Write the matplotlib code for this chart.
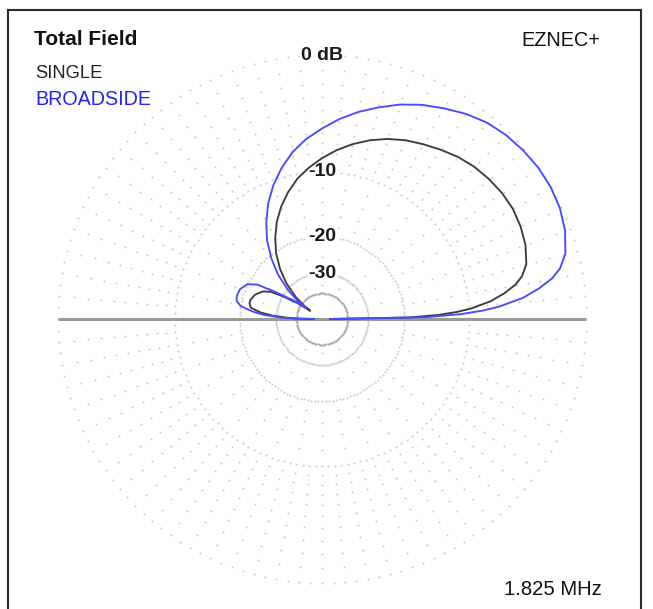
import numpy as np
import matplotlib
matplotlib.use("Agg")
import matplotlib.pyplot as plt
from matplotlib.lines import Line2D

# ---------------- data (elevation angle in degrees, field in dB) ----------------
angles = [0, 1, 2, 3, 4, 6, 8, 10, 12, 15, 20, 25, 30, 35, 40, 45, 50, 55, 60, 65,
          70, 75, 80, 85, 90, 95, 100, 105, 110, 115, 120, 125, 130, 135, 140, 143,
          145, 147, 150, 152, 155, 160, 165, 168, 171, 174, 176, 178, 179, 180]

broadside_db = [-60, -16, -11, -8.5, -6.8, -4.6, -3.2, -2.1, -1.4, -0.8, -0.35, -0.1,
                0.0, 0.0, -0.1, -0.25, -0.5, -0.9, -1.4, -1.9, -2.5, -3.2, -3.9, -4.7,
                -5.6, -6.5, -7.6, -9.0, -10.6, -12.5, -14.8, -17.4, -20.8, -25, -31,
                -37, -45, -35, -27, -22, -20, -19, -18.8, -19, -20, -23, -26, -32, -38,
                -60]

single_db = [-60, -19, -14, -11.5, -9.8, -7.6, -6.2, -5.1, -4.4, -3.8, -3.4, -3.2,
             -3.1, -3.15, -3.3, -3.5, -3.8, -4.2, -4.6, -5.0, -5.5, -6.1, -6.8, -7.6,
             -8.5, -9.5, -10.6, -12.0, -13.6, -15.5, -17.8, -20.5, -24, -28.5, -35,
             -42, -50, -38, -30, -26, -24, -22.5, -21.8, -21.8, -22.3, -25, -28.5, -35, -41,
             -60]

ring_db = [0, -10, -20, -30, -40]
ring_labels = ["0 dB", "-10", "-20", "-30"]
series_names = ["SINGLE", "BROADSIDE"]
title_text = "Total Field"
brand_text = "EZNEC+"
freq_text = "1.825 MHz"

# ---------------- helpers ----------------
def arrl_r(db):
    """ARRL log scale: radius factor 0.89 per 2 dB."""
    return 0.89 ** (-np.asarray(db, dtype=float) / 2.0)

def to_xy(ang_deg, db):
    r = arrl_r(db)
    a = np.radians(np.asarray(ang_deg, dtype=float))
    return r * np.cos(a), r * np.sin(a)

W, H = 653, 609
CX, CY, R = 322, 319, 264          # centre and outer radius in pixels

fig = plt.figure(figsize=(W / 100, H / 100), dpi=100)
ax = fig.add_axes([0, 0, 1, 1])
ax.set_xlim(-CX / R, (W - CX) / R)
ax.set_ylim(-(H - CY) / R, CY / R)
ax.axis("off")

def fx(px):
    return px / W

def fy(py):
    return 1 - py / H

FONT = ["Liberation Sans", "DejaVu Sans"]
grid_col = "#c6c6c6"

# ---------------- grid: dotted rings ----------------
ring_ang = np.arange(0, 360, 2.5)
for db in ring_db:
    x, y = to_xy(ring_ang, np.full_like(ring_ang, db))
    col = "#a8a8a8" if db == -40 else grid_col
    ax.plot(x, y, linestyle="none", marker="s", markersize=1.25,
            markeredgewidth=0, color=col, zorder=1)

# ---------------- grid: dotted spokes ----------------
spoke_bands = [
    (np.arange(-9, 0, 1), 5),
    (np.array([-18, -16, -14, -12]), 10),
    (np.array([-25]), 15),
    (np.array([-35]), 30),
]
for dbs, step in spoke_bands:
    angs = np.arange(0, 360, step)
    A, D = np.meshgrid(angs, dbs)
    x, y = to_xy(A.ravel(), D.ravel())
    ax.plot(x, y, linestyle="none", marker="s", markersize=1.25,
            markeredgewidth=0, color=grid_col, zorder=1)

# ---------------- horizon line ----------------
ax.plot([-1, 1], [0, 0], color="#999999", linewidth=2.2, zorder=2,
        solid_capstyle="butt")

# ---------------- ring labels ----------------
for db, lab in zip(ring_db, ring_labels):
    ax.text(0, float(arrl_r(db)), lab, ha="center", va="center",
            fontsize=14, fontweight="bold", family=FONT, color="#1a1a1a",
            zorder=3, bbox=dict(facecolor="white", edgecolor="none", pad=0.5))

# ---------------- patterns ----------------
xs, ys = to_xy(angles, single_db)
ax.plot(xs, ys, color="#3c3c3c", linewidth=1.35, zorder=4)
xb, yb = to_xy(angles, broadside_db)
ax.plot(xb, yb, color="#4a4aff", linewidth=1.35, zorder=5)

# ---------------- texts ----------------
fig.text(fx(34), fy(45), title_text, fontsize=15, fontweight="bold",
         family=FONT, color="#111111", ha="left", va="baseline")
fig.text(fx(35), fy(78), series_names[0], fontsize=13.2,
         family=FONT, color="#222222", ha="left", va="baseline")
fig.text(fx(35), fy(105), series_names[1], fontsize=14.2,
         family=FONT, color="#2222ff", ha="left", va="baseline")
fig.text(fx(600), fy(46), brand_text, fontsize=14.3,
         family=FONT, color="#111111", ha="right", va="baseline")
fig.text(fx(602), fy(595), freq_text, fontsize=14.6,
         family=FONT, color="#111111", ha="right", va="baseline")

# ---------------- frame ----------------
frame_col = "#2a2a2a"
for (x0, y0, x1, y1) in [(8, 10, 641, 10), (8, 10, 8, 612), (641, 10, 641, 612)]:
    fig.add_artist(Line2D([fx(x0), fx(x1)], [fy(y0), fy(y1)],
                          color=frame_col, linewidth=1.5,
                          transform=fig.transFigure))

fig.savefig("out.png", dpi=100, facecolor="white")
